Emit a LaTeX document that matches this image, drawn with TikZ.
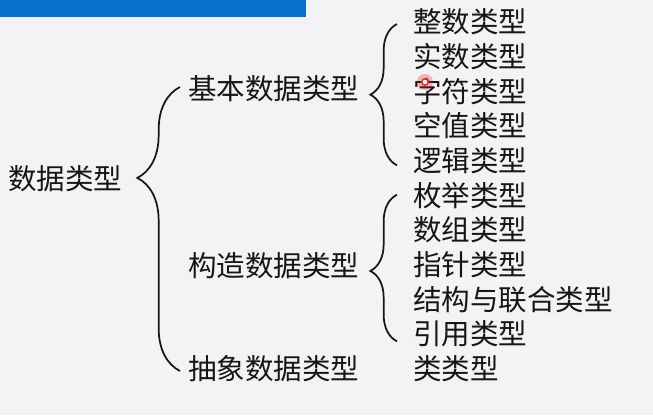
\documentclass[tikz,border=0pt]{standalone}
\usepackage{fontspec}
\setmainfont{Noto Sans CJK SC}
\usepackage{tikz}
\usetikzlibrary{positioning, decorations.pathreplacing}
\usepackage{xcolor}
\definecolor{cBar}{RGB}{8,114,204}
\definecolor{cBack}{RGB}{243,243,245}
\definecolor{cInk}{RGB}{22,22,22}
\definecolor{cDot}{RGB}{230,40,40}

\begin{document}
\begin{tikzpicture}[font=\fontsize{21.4pt}{24pt}\selectfont,
  lbl/.style={anchor=west, inner sep=0pt, text height=17.2pt, text depth=4.2pt, text=cInk},
  brc/.style={decorate, draw=cInk, line width=1.3pt,
    decoration={brace, amplitude=#1}},
  brc/.default=20pt]
  \useasboundingbox[fill=cBack] (0,0) rectangle (489.75pt,-311.25pt);
  \fill[cBar] (0,0) rectangle (229.5pt,-13pt);
  % left side
  \node[lbl] (root) at (6pt,-135.75pt) {数据类型};
  \node[lbl] (basic) at (141pt,-68.25pt) {基本数据类型};
  \node[lbl] (constr) at (141pt,-201pt) {构造数据类型};
  \node[lbl] (abstr) at (141pt,-278.25pt) {抽象数据类型};
  % right column
  \node[lbl] (zs) at (309.75pt,-18pt) {整数类型};
  \node[lbl, below right=4.2pt and 0pt of zs.south west] (ss) {实数类型};
  \node[lbl, below right=4.2pt and 0pt of ss.south west] (zf) {字符类型};
  \node[lbl, below right=4.2pt and 0pt of zf.south west] (kz) {空值类型};
  \node[lbl, below right=4.2pt and 0pt of kz.south west] (lj) {逻辑类型};
  \node[lbl, below right=4.2pt and 0pt of lj.south west] (mj) {枚举类型};
  \node[lbl, below right=4.2pt and 0pt of mj.south west] (sz) {数组类型};
  \node[lbl, below right=4.2pt and 0pt of sz.south west] (zz) {指针类型};
  \node[lbl, below right=4.2pt and 0pt of zz.south west] (jg) {结构与联合类型};
  \node[lbl, below right=4.2pt and 0pt of jg.south west] (yy) {引用类型};
  \node[lbl, below right=4.2pt and 0pt of yy.south west] (lei) {类类型};
  % braces
  \draw[brc=32pt, decoration={aspect=0.68}]
    ([xshift=-6pt]abstr.west) -- ([xshift=-6pt,yshift=3pt]basic.west);
  \draw[brc, decoration={aspect=0.5}]
    ([xshift=-12pt,yshift=-2pt]lj.west) -- ([xshift=-12pt]zs.west);
  \draw[brc, decoration={aspect=0.48}]
    ([xshift=-12pt,yshift=-4pt]yy.west) -- ([xshift=-12pt,yshift=2pt]mj.west);
  % pointer dot
  \fill[cDot, opacity=0.3] (318.75pt,-61.5pt) circle (6pt);
  \draw[cDot, line width=1.1pt, fill=white] (318.75pt,-61.5pt) circle (2.4pt);
\end{tikzpicture}
\end{document}
